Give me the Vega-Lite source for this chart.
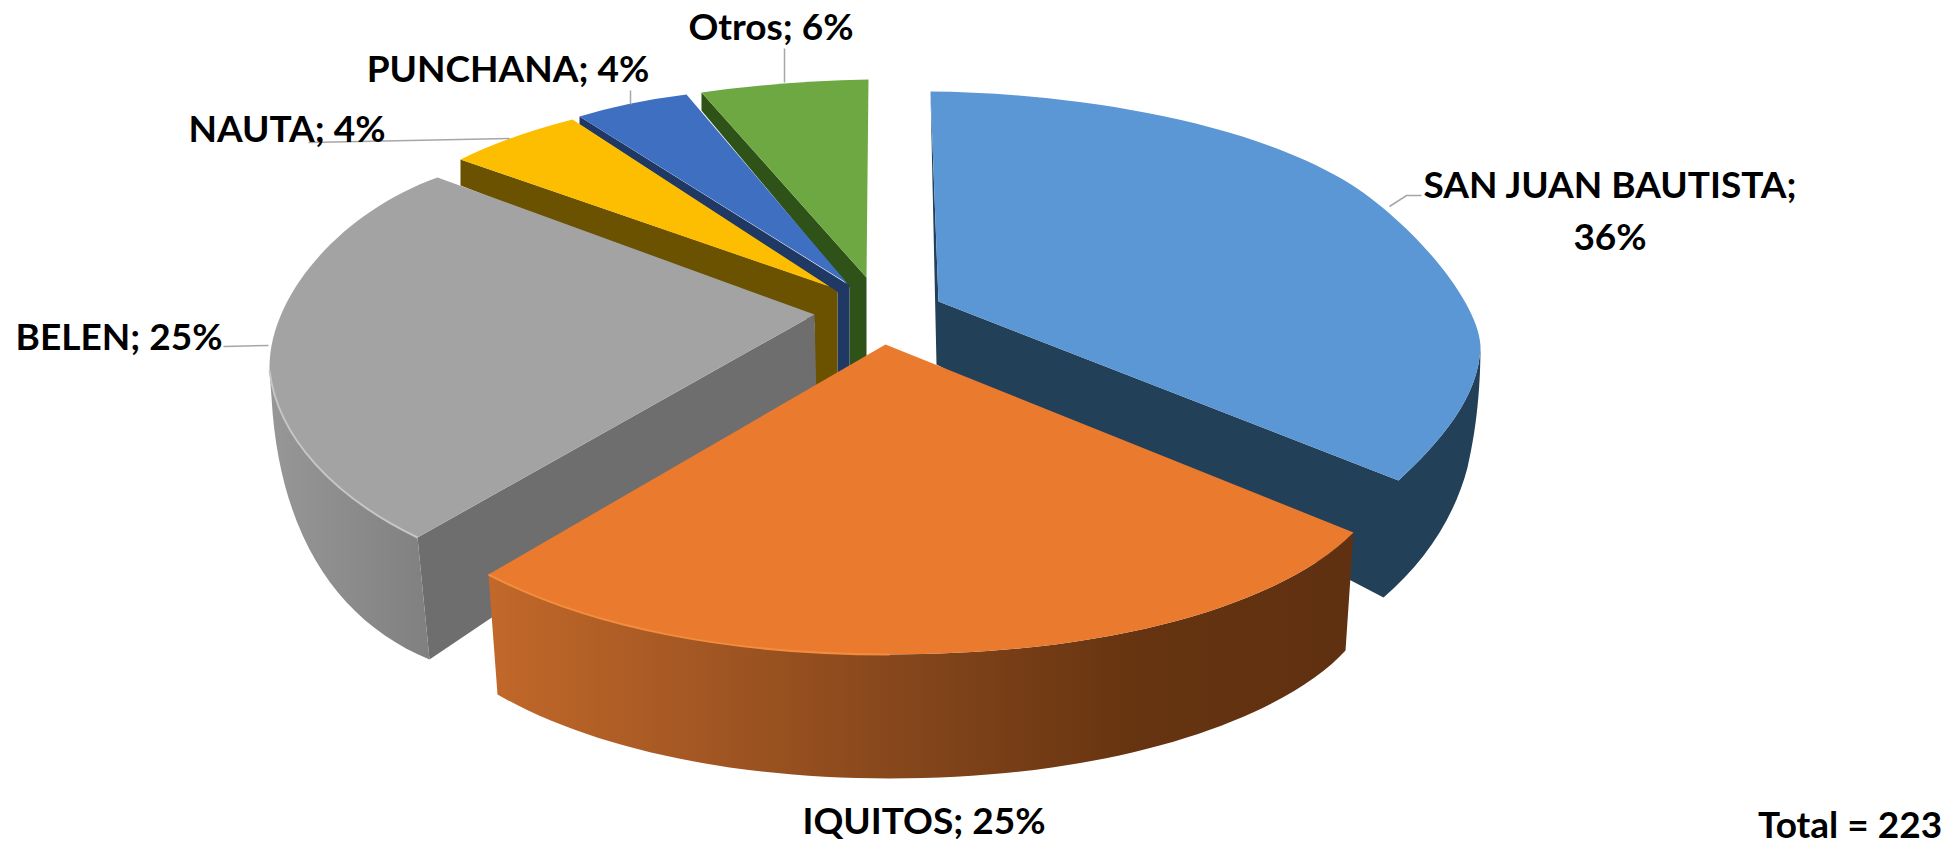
{
"$schema":"https://vega.github.io/schema/vega-lite/v6.json",
"width":1959,"height":841,
"autosize":{"type":"fit","contains":"padding"},
"padding":0,
"background":"white",
"config":{"view":{"stroke":null}},
"data":{"values":[
{"distrito":"SAN JUAN BAUTISTA","casos":80,"etiqueta":"SAN JUAN BAUTISTA;\n36%"},
{"distrito":"IQUITOS","casos":56,"etiqueta":"IQUITOS; 25%"},
{"distrito":"BELEN","casos":56,"etiqueta":"BELEN; 25%"},
{"distrito":"NAUTA","casos":9,"etiqueta":"NAUTA; 4%"},
{"distrito":"PUNCHANA","casos":9,"etiqueta":"PUNCHANA; 4%"},
{"distrito":"Otros","casos":13,"etiqueta":"Otros; 6%"},
{"distrito":"Total","casos":223,"etiqueta":"Total = 223"}
]},
"transform":[{"window":[{"op":"row_number","as":"orden"}]}],
"resolve":{"scale":{"shape":"independent","fill":"independent","stroke":"independent"}},
"layer":[
{"transform":[{"filter":"datum.distrito !== 'Total' && datum.distrito !== 'IQUITOS'"}],
"mark":{"type":"point","filled":true,"size":4,"opacity":1},
"encoding":{
"order":{"field":"orden","sort":"descending"},
"fill":{"field":"distrito","type":"nominal","legend":null,"scale":{"domain":["SAN JUAN BAUTISTA","BELEN","NAUTA","PUNCHANA","Otros"],"range":["#234059","#6E6E6E","#6B5200","#1F3864","#2F5218"]}},
"shape":{"field":"distrito","type":"nominal","legend":null,"scale":{"domain":["SAN JUAN BAUTISTA","BELEN","NAUTA","PUNCHANA","Otros"],"range":[
"M-49,-327 L-41,-117 L419,62 C460,24 500,-21 501,-73 C501,-21 495,19 488,49 C475,99 445,144 404,179 L-43,-54 Z",
"M-165,-104 L-562,119 L-550,241 L-163,-20 Z",
"M-519,-259 L-519,-233 L-165,-96 L-165,-20 L-142,-35 L-142,-127 L-152,-133 Z",
"M-400,-302 L-400,-294 L-142,-126 L-142,-35 L-130,-45 L-130,-133 Z",
"M-278,-326 L-278,-308 L-130,-131 L-130,-45 L-113,-58 L-113,-141 Z"
]}}
}},
{"transform":[{"filter":"datum.distrito === 'BELEN'"}],
"mark":{"type":"point","filled":true,"size":4,"opacity":1,"fill":{"gradient":"linear","x1":0,"y1":0,"x2":1,"y2":0,"stops":[{"offset":0,"color":"#979797"},{"offset":1,"color":"#808080"}]}},
"encoding":{
"shape":{"field":"distrito","type":"nominal","legend":null,"scale":{"domain":["BELEN"],"range":["M-710,-48 C-702,19 -645,79 -562,119 L-550,241 C-640,204 -700,119 -708,-21 Z"]}}
}},
{"transform":[{"filter":"datum.distrito === 'IQUITOS'"}],
"mark":{"type":"point","filled":true,"size":4,"opacity":1,"fill":{"gradient":"linear","x1":0,"y1":0,"x2":1,"y2":0,"stops":[{"offset":0,"color":"#C2682A"},{"offset":0.5,"color":"#83451B"},{"offset":0.75,"color":"#663410"},{"offset":1,"color":"#5F3011"}]}},
"encoding":{
"shape":{"field":"distrito","type":"nominal","legend":null,"scale":{"domain":["IQUITOS"],"range":["M-491,156 C-390,209 -250,236 -90,236 C150,236 310,179 374,114 L366,232 C310,294 150,360 -90,360 C-250,360 -390,329 -482,276 Z"]}}
}},
{"transform":[{"filter":"datum.distrito !== 'Total'"}],
"mark":{"type":"point","filled":true,"size":4,"opacity":1},
"encoding":{
"fill":{"field":"distrito","type":"nominal","legend":null,"scale":{"domain":["SAN JUAN BAUTISTA","IQUITOS","BELEN","NAUTA","PUNCHANA","Otros"],"range":["#5B97D5","#E97A2E","#A3A3A3","#FDBE02","#3F6FC0","#6DA843"]}},
"shape":{"field":"distrito","type":"nominal","legend":null,"scale":{"domain":["SAN JUAN BAUTISTA","IQUITOS","BELEN","NAUTA","PUNCHANA","Otros"],"range":[
"M-49,-327 C80,-326 255,-301 360,-241 C425,-204 498,-121 501,-73 C500,-21 460,24 419,62 L-41,-117 Z",
"M-94,-74 L374,114 C310,179 150,236 -90,236 C-250,236 -390,209 -491,156 Z",
"M-542,-241 L-165,-104 L-562,119 C-645,79 -702,19 -710,-48 C-712,-121 -640,-206 -542,-241 Z",
"M-519,-259 Q-470,-283 -407,-299 L-150,-132 Z",
"M-400,-302 Q-350,-317 -293,-324 L-132,-135 Z",
"M-278,-326 Q-200,-337 -111,-339 L-113,-141 Z"
]}}
}},
{"transform":[{"filter":"datum.distrito === 'IQUITOS' || datum.distrito === 'BELEN'"}],
"mark":{"type":"point","filled":false,"size":4,"opacity":1,"strokeWidth":2},
"encoding":{
"stroke":{"field":"distrito","type":"nominal","legend":null,"scale":{"domain":["IQUITOS","BELEN"],"range":["#F28C3E","#C6C6C6"]}},
"shape":{"field":"distrito","type":"nominal","legend":null,"scale":{"domain":["IQUITOS","BELEN"],"range":[
"M-491,156 C-390,209 -250,236 -90,236",
"M-562,119 C-645,79 -702,19 -710,-48"
]}}
}},
{"transform":[{"filter":"datum.distrito !== 'Total' && datum.distrito !== 'IQUITOS'"}],
"mark":{"type":"point","filled":false,"size":4,"opacity":1,"strokeWidth":1.5,"stroke":"#A6A6A6"},
"encoding":{
"shape":{"field":"distrito","type":"nominal","legend":null,"scale":{"domain":["SAN JUAN BAUTISTA","BELEN","NAUTA","PUNCHANA","Otros"],"range":[
"M410,-212 L427,-223 L442,-223",
"M-756,-72 L-711,-73",
"M-671,-276 L-470,-280",
"M-349,-328 L-349,-314",
"M-195,-370 L-195,-336"
]}}
}},
{"mark":{"type":"text","font":"Lato","fontWeight":"bold","fontSize":37,"align":"center","baseline":"middle","lineBreak":"\n","lineHeight":52,"color":"black"},
"encoding":{
"text":{"field":"etiqueta","type":"nominal"},
"x":{"field":"orden","type":"quantitative","axis":null,"scale":{"zero":false,"nice":false,"domain":[1,2,3,4,5,6,7],"range":[1610,924,119,287,508,771,1850]}},
"y":{"field":"orden","type":"quantitative","axis":null,"scale":{"zero":false,"nice":false,"domain":[1,2,3,4,5,6,7],"range":[187,823,339,131,71,29,827]}}
}}
]
}
